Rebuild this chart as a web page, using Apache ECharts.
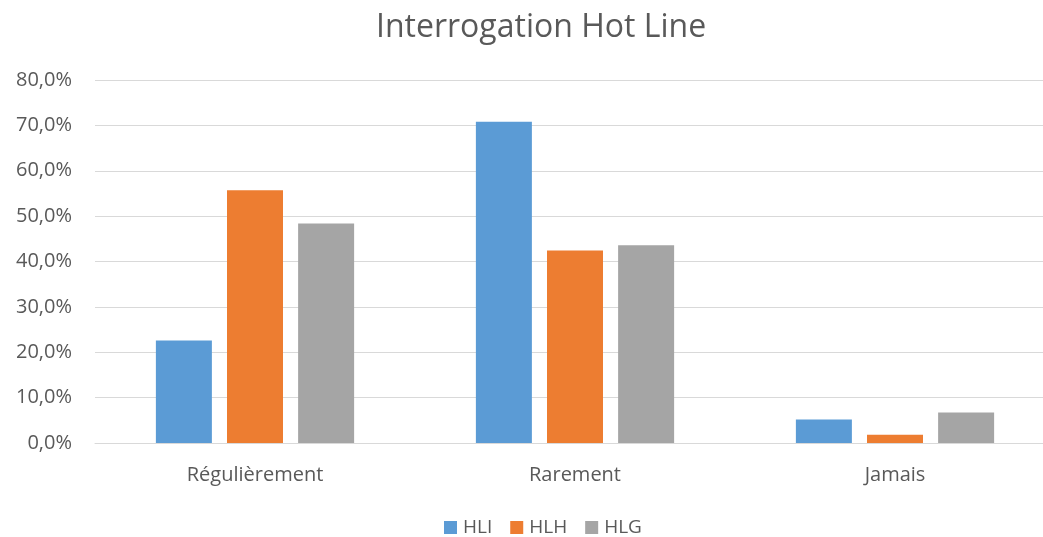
<!DOCTYPE html>
<html><head><meta charset="utf-8">
<script src="https://cdn.jsdelivr.net/npm/echarts@6/dist/echarts.min.js"></script>
<style>html,body{margin:0;padding:0;background:#fff;overflow:hidden}#c{width:1070px;height:537px}</style>
</head><body><div id="c"></div>
<script>
const categories = ['Régulièrement', 'Rarement', 'Jamais'];
const seriesNames = ['HLI', 'HLH', 'HLG'];
const hli = [22.6, 70.8, 5.2];
const hlh = [55.7, 42.4, 1.8];
const hlg = [48.4, 43.6, 6.7];
const colors = ['#5B9BD5', '#ED7D31', '#A5A5A5'];
const font = '"Open Sans", "Liberation Sans", sans-serif';
const chart = echarts.init(document.getElementById('c'));
const dataSets = [hli, hlh, hlg];
chart.setOption({
  animation: false,
  color: colors,
  title: {
    text: 'Interrogation Hot Line',
    left: 371, top: 7,
    textStyle: {fontFamily: font, fontSize: 32, fontWeight: 'normal', color: '#595959'}
  },
  legend: {
    data: seriesNames,
    bottom: 0, left: 444, padding: 0,
    itemWidth: 13, itemHeight: 13, itemGap: 18,
    icon: 'rect',
    textStyle: {fontFamily: font, fontSize: 19, color: '#595959', padding: [0, 0, 0, 1]}
  },
  grid: {left: 95, top: 80, width: 960, height: 363, containLabel: false},
  xAxis: {
    type: 'category', data: categories,
    axisLine: {lineStyle: {color: '#d9d9d9'}},
    axisTick: {show: false},
    axisLabel: {fontFamily: font, fontSize: 20, color: '#595959', margin: 22}
  },
  yAxis: {
    type: 'value', min: 0, max: 80, interval: 10,
    axisLine: {show: false}, axisTick: {show: false},
    splitLine: {lineStyle: {color: '#d9d9d9', width: 1}},
    axisLabel: {fontFamily: font, fontSize: 20, color: '#595959', margin: 23,
      formatter: v => v.toFixed(1).replace('.', ',') + '%'}
  },
  series: seriesNames.map((n, i) => ({
    name: n, type: 'bar', data: dataSets[i],
    barWidth: 56, barGap: '27%'
  }))
});
</script></body></html>
